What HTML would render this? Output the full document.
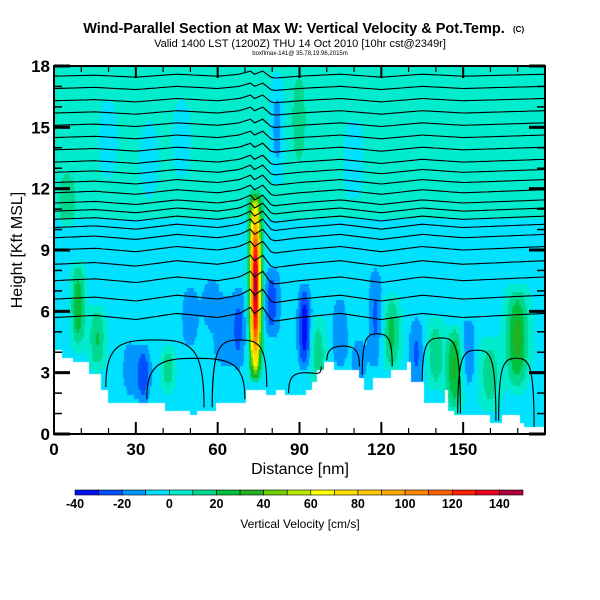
<!DOCTYPE html>
<html><head><meta charset="utf-8"><style>
body{margin:0;background:#fff;width:600px;height:600px;overflow:hidden;font-family:"Liberation Sans",sans-serif}
#wrap{position:relative;width:600px;height:600px}
canvas{position:absolute;left:54px;top:66px}
svg{position:absolute;left:0;top:0}
</style></head><body><div id="wrap">
<canvas id="field" width="491" height="368"></canvas>
<svg id="svg" width="600" height="600"></svg>
</div>
<script>
// ---- data ----
const colorBins=[-40,-30,-20,-10,0,10,20,30,40,50,60,70,80,90,100,110,120,130,140,150];
const binColors=["#0010f0","#0050ff","#0096ff","#00e0ff","#00eccc","#00d890","#00c040","#20b020","#70d000","#b8e800","#ffff00","#ffe000","#ffc800","#ffa800","#ff8800","#ff6000","#ff2000","#ee0020","#b00040"];
const barLabels=[-40,-20,0,20,40,60,80,100,120,140];
const xTicks=[0,30,60,90,120,150];
const yTicks=[0,3,6,9,12,15,18];
// terrain steps: start x (nm), height (km)
const terrainX=[0,3,7,13,17.6,19.8,21.7,41,50,52,59,70,78,81,85,92,94,96,98.6,103,105.4,112,113.8,116.4,123,129,131,136,143,144.5,147,160,164,171,172.7];
const terrainH=[4.26,3.9,3.6,3.0,2.3,1.7,1.7,1.3,1.0,1.3,1.7,2.3,2.0,2.3,2.0,2.3,2.7,3.3,3.6,3.3,3.3,2.9,2.3,2.9,3.3,3.6,2.6,1.7,2.3,1.3,1.0,0.65,1.0,0.65,0.35];
// vertical-velocity features
const featX=  [74, 9, 16, 33, 42, 50, 68, 80, 92, 97, 118, 124, 133, 140, 147, 152, 170, 82, 90, 20, 35, 47, 110,160,105,62, 5, 28, 58, 112];
const featAmp=[150,32, 25,-24, 22,-14,-18,-22,-34, 20,-18,  28,-18,  22,  36,-16,  38,-18, 14,-8, -8, -8, -9,  20,-14,-12,15,-11,-11,-11];
const featW=  [2.0,2.5,3,  2.5,2.5,3,  3,  3,  2.2,3,  2.5, 3,  2.5, 3,   3,   2.5, 4,  2.5,2.5,4,  4,  4,  4,  4,  3,  4,  3, 3, 4, 3];
const featZ0= [2.5,4, 3,  1.5,2,  4,  3,  4.5,3,  2,  3,   3,  2,   2,   1,   2,   2,  12, 13, 12, 11, 12, 11, 1,  3,  3,  10,1.5,5,2];
const featZ1= [12, 8.7,6.5,4.5,4.5,7.5,7.5,8.5,7.5,6,  8.5, 7,  6,   6,   5.5, 6,   7.5,18, 18, 17, 16, 17, 16, 5,  7,  7,  13,5,8,5];
// isentropes: base heights and shared perturbation at knots
const isoBase=[17.5,16.9,16.3,15.7,15.1,14.5,13.9,13.3,12.8,12.3,11.8,11.3,10.9,10.5,10.1,9.6,9.0,8.3,7.5,6.6,5.7];
const knotX=[0,15,30,45,60,68,72,74,76,80,90,105,120,135,150,165,180];
const knotDz=[0,0.05,-0.05,0.1,0,0.1,0.25,0.05,0.3,-0.1,0,0.1,-0.05,0.1,0,0.05,0.1];
// closed low-level theta domes: left x, right x, top height
const domeL=[19,34,58,86,100,113,135,148,163];
const domeR=[55,70,78,98,112,124,149,162,176];
const domeT=[4.6,3.7,4.6,3.0,4.3,4.9,4.7,4.1,3.7];
// ---- scales ----
const X0=54,X1=545,Y0=434,Y1=66;
const sx=v=>X0+(v/180)*(X1-X0);
const sy=v=>Y0-(v/18)*(Y0-Y1);
function terr(x){let h=terrainH[0];for(let i=0;i<terrainX.length;i++){if(x>=terrainX[i])h=terrainH[i];}return h;}
function colorOf(w){for(let i=0;i<binColors.length;i++){if(w<colorBins[i+1])return binColors[i];}return binColors[binColors.length-1];}
// ---- field ----
const ctx=document.getElementById('field').getContext('2d');
const dx=0.5,dz=0.2;
for(let x=0;x<180;x+=dx){for(let z=0;z<18;z+=dz){
 const xc=x+dx/2,zc=z+dz/2;
 if(zc<terr(xc))continue;
 let w=zc>10.5?4:-4;
 for(let k=0;k<featX.length;k++){
  const z0=featZ0[k],z1=featZ1[k];
  if(zc<z0||zc>z1)continue;
  const gx=Math.exp(-Math.pow((xc-featX[k])/featW[k],2));
  const t=(zc-z0)/(z1-z0);const env=Math.sin(Math.PI*t);
  w+=featAmp[k]*gx*Math.pow(env,0.7);
 }
 ctx.fillStyle=colorOf(w);
 const px=sx(x)-X0,py=sy(z+dz)-Y1;
 ctx.fillRect(Math.floor(px),Math.floor(py),Math.ceil(sx(x+dx)-sx(x))+1,Math.ceil(sy(z)-sy(z+dz))+1);
}}
// ---- svg ----
const NS="http://www.w3.org/2000/svg",svg=document.getElementById('svg');
function el(t,a,p){const e=document.createElementNS(NS,t);for(const k in a)e.setAttribute(k,a[k]);(p||svg).appendChild(e);return e;}
function dz_at(x){for(let i=0;i<knotX.length-1;i++){if(x>=knotX[i]&&x<=knotX[i+1]){const t=(x-knotX[i])/(knotX[i+1]-knotX[i]);return knotDz[i]+t*(knotDz[i+1]-knotDz[i]);}}return 0;}
const isoG=el('g',{});


isoBase.forEach((h,i)=>{
 let pts=[];const s=1+(17.5-h)/12;
 for(let x=0;x<=180;x+=1.5){const z=h+dz_at(x)*s;if(z>terr(x))pts.push(sx(x).toFixed(1)+','+sy(z).toFixed(1));}
 const pl=el('polyline',{points:pts.join(' '),fill:'none',stroke:'#000','stroke-width':1.1},isoG);
 
 
});
domeT.forEach((t,i)=>{
 const l=domeL[i],r=domeR[i],m=(l+r)/2,bl=terr(l+0.1),br=terr(r-0.1);
 const d=`M${sx(l)},${sy(bl)} C${sx(l)},${sy(t-0.2)} ${sx(l+(r-l)*0.15)},${sy(t)} ${sx(m)},${sy(t)} C${sx(r-(r-l)*0.15)},${sy(t)} ${sx(r)},${sy(t-0.2)} ${sx(r)},${sy(br)}`;
 const p=el('path',{d:d,fill:'none',stroke:'#000','stroke-width':1.1},isoG);
 
 
});
// axes frame
const fr=el('rect',{x:X0,y:Y1,width:X1-X0,height:Y0-Y1,fill:'none',stroke:'#000','stroke-width':2});


for(let v=0;v<=18;v++){const y=sy(v),L=v%3==0?16:8,wd=v%3==0?3:1.5;
 el('line',{x1:X0,x2:X0+L,y1:y,y2:y,stroke:'#000','stroke-width':wd});
 el('line',{x1:X1-L,x2:X1,y1:y,y2:y,stroke:'#000','stroke-width':wd});}
for(let v=0;v<=180;v+=10){const x=sx(v),L=v%30==0?12:6,wd=v%30==0?2:1.2;
 el('line',{x1:x,x2:x,y1:Y0,y2:Y0-L,stroke:'#000','stroke-width':wd});
 el('line',{x1:x,x2:x,y1:Y1,y2:Y1+L,stroke:'#000','stroke-width':wd});}
yTicks.forEach(v=>{const t=el('text',{x:X0-4,y:sy(v)+6,'text-anchor':'end','font-size':17,'font-weight':'bold'});t.textContent=v;
 
 });
xTicks.forEach(v=>{const t=el('text',{x:sx(v),y:Y0+21,'text-anchor':'middle','font-size':17,'font-weight':'bold'});t.textContent=v;
 
 });
function txt(s,a,name){const t=el('text',a);t.textContent=s;return t;}
txt('Distance [nm]',{x:300,y:474,'text-anchor':'middle','font-size':16},'x-axis-title');
txt('Height [Kft MSL]',{x:22,y:250,'text-anchor':'middle','font-size':16,transform:'rotate(-90 22 250)'},'y-axis-title');
txt('Wind-Parallel Section at Max W: Vertical Velocity & Pot.Temp.',{x:294,y:33,'text-anchor':'middle','font-size':14.5,'font-weight':'bold'},'chart-title');
txt('(C)',{x:513,y:32,'font-size':8,'font-weight':'bold'},'copyright');
txt('Valid 1400 LST (1200Z) THU 14 Oct 2010 [10hr cst@2349r]',{x:300,y:47,'text-anchor':'middle','font-size':11},'chart-subtitle');
txt('boxflmax-141@ 35.78,19.96,2015m',{x:300,y:55,'text-anchor':'middle','font-size':6},'chart-subsubtitle');
// colorbar
const cbX0=75,cbX1=523,cbW=(cbX1-cbX0)/binColors.length;
binColors.forEach((c,i)=>{const r=el('rect',{x:cbX0+i*cbW,y:490,width:cbW,height:5,fill:c,stroke:'#000','stroke-width':0.6});
 
 });
barLabels.forEach(v=>{const i=colorBins.indexOf(v);txt(v,{x:cbX0+i*cbW,y:508,'text-anchor':'middle','font-size':12.5,'font-weight':'bold'},'colorbar-label');});
txt('Vertical Velocity [cm/s]',{x:300,y:528,'text-anchor':'middle','font-size':12},'colorbar-title');
</script></body></html>
